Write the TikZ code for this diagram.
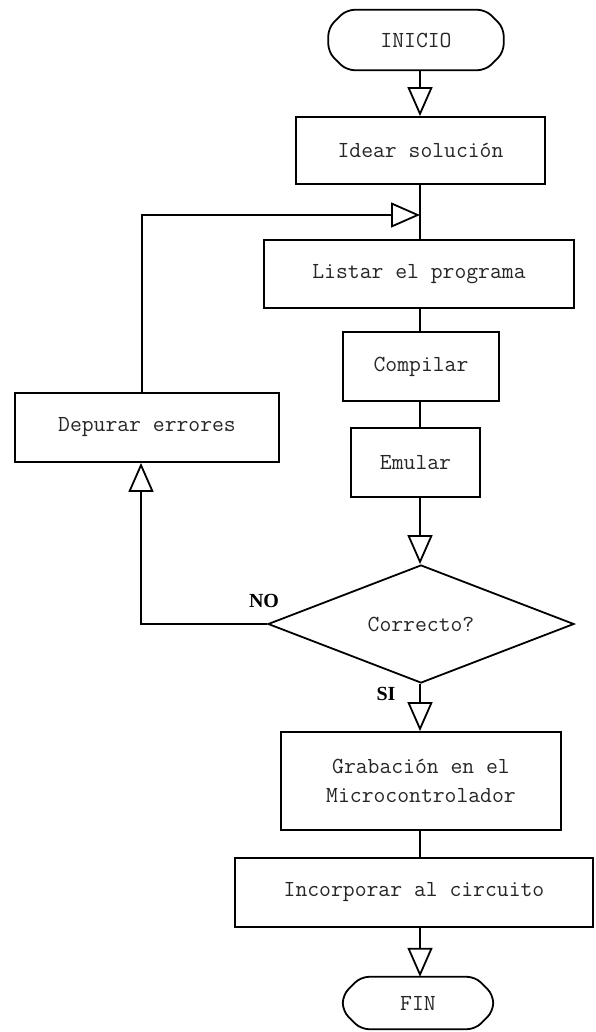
\documentclass[tikz,border=0pt]{standalone}
\usepackage{fontspec}
\newfontfamily\lblfont{Liberation Serif}
\usetikzlibrary{arrows.meta,shapes.geometric}
\begin{document}
\begin{tikzpicture}[x=1pt,y=-1pt,
  txt/.style={font=\ttfamily\fontsize{23}{29}\selectfont,text=black!85},
  box/.style={txt,draw,line width=1.8pt,rectangle,inner sep=0pt,align=center},
  termbox/.style={txt,rectangle,inner sep=0pt},
  decision/.style={txt,draw,line width=1.8pt,diamond,aspect=2.6,inner sep=0pt},
  ln/.style={line width=1.8pt},
  arr/.style={line width=1.8pt,-{Triangle[open,length=29pt,width=25pt]}},
  lbl/.style={font=\lblfont\bfseries\fontsize{20}{22}\selectfont,inner sep=0pt}]
\useasboundingbox (0,0) rectangle (595,1032);
\newcommand\drawterm[1]{%
  \draw[line width=1.8pt,rounded corners=8pt]
    ([xshift=18pt]#1.north west) -- ([xshift=-18pt]#1.north east)
    -- ([yshift=-18pt]#1.north east) -- ([yshift=18pt]#1.south east)
    -- ([xshift=-18pt]#1.south east) -- ([xshift=18pt]#1.south west)
    -- ([yshift=18pt]#1.south west) -- ([yshift=-18pt]#1.north west) -- cycle;}
\coordinate (ax) at (420,0);
\coordinate (fb) at (420,215);
% nodes
\node[termbox,minimum width=175pt,minimum height=60pt] (ini) at (416,40) {INICIO};
\drawterm{ini}
\node[box,minimum width=249pt,minimum height=67pt] (ide) at (420.5,150.5) {Idear solución};
\node[box,minimum width=310pt,minimum height=68pt] (lis) at (419,274) {Listar el programa};
\node[box,minimum width=156pt,minimum height=69pt] (com) at (421,366.5) {Compilar};
\node[box,minimum width=129pt,minimum height=69pt] (emu) at (415.5,462.5) {Emular};
\node[box,minimum width=264pt,minimum height=69pt] (dep) at (147,427.5) {Depurar errores};
\node[decision,minimum width=306pt,minimum height=118pt] (dia) at (421,624) {Correcto?};
\node[box,minimum width=280pt,minimum height=98pt] (gra) at (421,781) {Grabación en el\\Microcontrolador};
\node[box,minimum width=358pt,minimum height=69pt] (inc) at (414,892.5) {Incorporar al circuito};
\node[termbox,minimum width=150pt,minimum height=52pt] (fin) at (418,1003) {FIN};
\drawterm{fin}
\node[lbl] (no) at (264,601) {NO};
\node[lbl] (si) at (386,694) {SI};
% connectors
\draw[arr] (ini.south -| ax) -- (ide.north -| ax);
\draw[ln] (ide.south -| ax) -- (lis.north -| ax);
\draw[arr] ([xshift=-5pt]dep.north) |- (fb);
\draw[ln] (lis.south -| ax) -- (com.north -| ax);
\draw[ln] (com.south -| ax) -- (emu.north -| ax);
\draw[arr] (emu.south -| ax) -- (dia.north -| ax);
\draw[arr] (dia.west) -| ([xshift=-6pt]dep.south);
\draw[arr] (dia.south -| ax) -- (gra.north -| ax);
\draw[ln] (gra.south -| ax) -- (inc.north -| ax);
\draw[arr] (inc.south -| ax) -- (fin.north -| ax);
\end{tikzpicture}
\end{document}
